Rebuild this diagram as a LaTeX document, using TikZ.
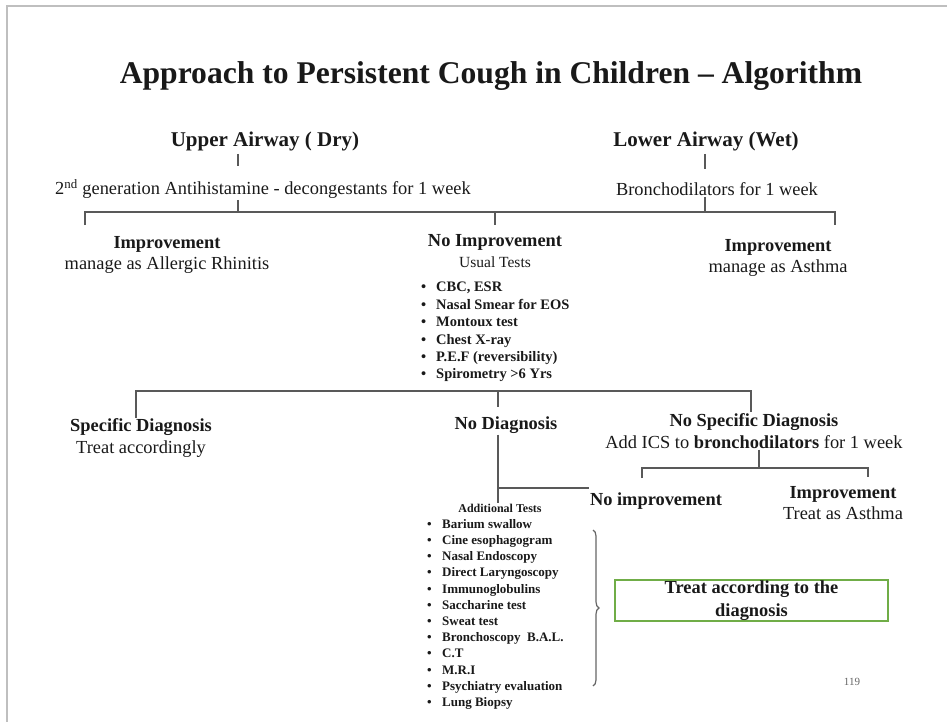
\documentclass[tikz,border=0pt]{standalone}
\usepackage{fontspec}
\setmainfont{Liberation Serif}
\usetikzlibrary{decorations.pathreplacing}
\definecolor{boxgreen}{RGB}{112,173,71}
\newcommand{\itembul}{\makebox[15pt][l]{\textbullet}}

\begin{document}
\begin{tikzpicture}[x=1pt, y=-1pt,
    every node/.style={inner sep=1pt, text=black!90},
    hd/.style={font=\fontsize{21}{24}\selectfont\bfseries},
    tx/.style={font=\fontsize{18.4}{21.5}\selectfont, align=center},
    sm/.style={font=\fontsize{14.5}{17.4}\selectfont\bfseries, align=left},
    xs/.style={font=\fontsize{13}{16.2}\selectfont\bfseries, align=left},
    link/.style={draw=black!65, line width=1.5pt}]
    \useasboundingbox (0,0) rectangle (947,722);
    \draw[black!25, line width=1.5pt] (947,6) -- (7,6) -- (7,722);
    \node[font=\fontsize{31.6}{34}\selectfont\bfseries] (title) at (491,76) {Approach to Persistent Cough in Children -- Algorithm};
    \node[hd] (upper) at (265,141) {Upper Airway ( Dry)};
    \node[hd] (lower) at (706,141) {Lower Airway (Wet)};
    \node[tx] (antih) at (263,189) {2\textsuperscript{nd} generation Antihistamine - decongestants for 1 week};
    \node[tx] (bronch) at (717,189) {Bronchodilators for 1 week};
    \node[tx] (impL) at (167,255) {\textbf{Improvement}\\manage as Allergic Rhinitis};
    \node[tx] (noimp) at (495,251) {\textbf{No Improvement}\\{\fontsize{15.5}{18}\selectfont Usual Tests}};
    \node[tx] (impR) at (778,258) {\textbf{Improvement}\\manage as Asthma};
    \node[sm, anchor=north west] (usual) at (420,281) {\itembul CBC, ESR\\ \itembul Nasal Smear for EOS\\ \itembul Montoux test\\ \itembul Chest X-ray\\ \itembul P.E.F (reversibility)\\ \itembul Spirometry >6 Yrs};
    \node[tx] (specd) at (141,438) {\textbf{Specific Diagnosis}\\Treat accordingly};
    \node[tx] (nodiag) at (506,425) {\textbf{No Diagnosis}};
    \node[tx] (nospec) at (754,431) {\textbf{No Specific Diagnosis}\\Add ICS to \textbf{bronchodilators} for 1 week};
    \node[tx] (noimp2) at (656,501) {\textbf{No improvement}};
    \node[tx] (imp3) at (843,503) {\textbf{Improvement}\\Treat as Asthma};
    \node[font=\fontsize{12}{14}\selectfont\bfseries] (addt) at (500,508) {Additional Tests};
    \node[xs, anchor=north west] (extra) at (426,518) {\itembul Barium swallow\\ \itembul Cine esophagogram\\ \itembul Nasal Endoscopy\\ \itembul Direct Laryngoscopy\\ \itembul Immunoglobulins\\ \itembul Saccharine test\\ \itembul Sweat test\\ \itembul Bronchoscopy\ \ B.A.L.\\ \itembul C.T\\ \itembul M.R.I\\ \itembul Psychiatry evaluation\\ \itembul Lung Biopsy};
    \node[draw=boxgreen, line width=2pt, minimum width=273pt, minimum height=41pt, align=center, font=\fontsize{18.4}{23}\selectfont\bfseries] (treat) at (751.5,600.5) {Treat according to the\\diagnosis};
    \node[font=\fontsize{11}{13}\selectfont, text=black!60] (page) at (852,682) {119};
    \coordinate (jA) at (238,212);
    \coordinate (jB) at (705,212);
    \coordinate (barL) at (85,212);
    \coordinate (barR) at (835,212);
    \draw[link] (upper.south -| jA) ++(0,2) -- ++(0,12);
    \draw[link] (antih.south -| jA) -- (jA);
    \draw[link] (lower.south -| jB) ++(0,2) -- ++(0,15);
    \draw[link] (bronch.south -| jB) -- (jB);
    \draw[link] (barL) ++(0,13) -- (barL) -- (barR) -- ++(0,13);
    \draw[link] (noimp.north |- barL) -- ++(0,13);
    \coordinate (bar2L) at (136,391);
    \coordinate (bar2R) at (751,391);
    \coordinate (jC) at (498,488);
    \draw[link] (specd.north -| bar2L) -- (bar2L) -- (bar2R) -- (nospec.north -| bar2R);
    \draw[link] (jC |- bar2L) -- ++(0,16);
    \draw[link] (nodiag.south -| jC) -- (addt.north -| jC);
    \draw[link] (jC) -- (noimp2.west |- jC);
    \coordinate (jD) at (759,468);
    \coordinate (bar3L) at (642,468);
    \coordinate (bar3R) at (868,468);
    \draw[link] (nospec.south -| jD) -- (jD);
    \draw[link] (bar3L) ++(0,10) -- (bar3L) -- (bar3R) -- ++(0,9);
    \coordinate (brT) at (593,530);
    \coordinate (brB) at (593,686);
    \draw[black!60, line width=1.2pt, decorate, decoration={brace, amplitude=6pt}] (brT) -- (brB);
\end{tikzpicture}
\end{document}
